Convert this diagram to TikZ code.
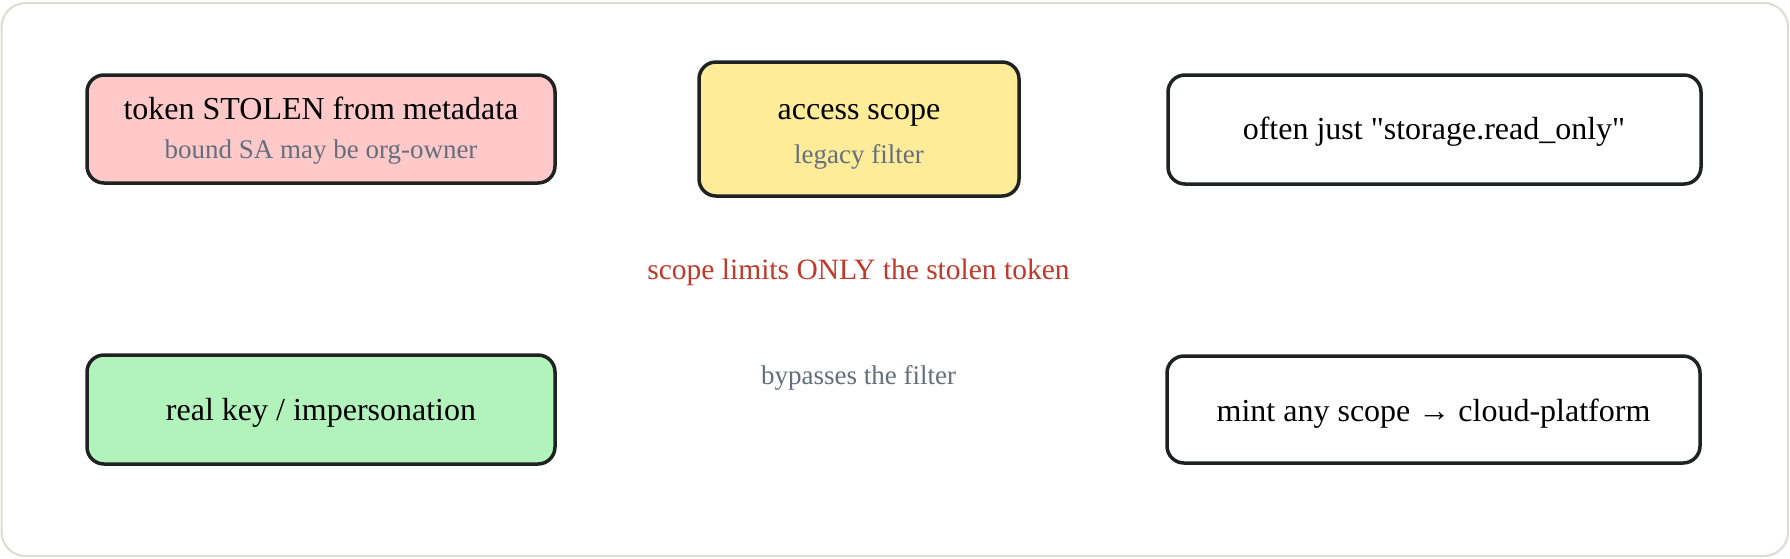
\documentclass[tikz,border=0pt]{standalone}
\usepackage{fontspec}
\setmainfont{Liberation Serif}[Ligatures=TeXOff]
\definecolor{strokeC}{HTML}{1E2222}
\definecolor{pinkF}{HTML}{FFC9C9}
\definecolor{yellowF}{HTML}{FFEC99}
\definecolor{greenF}{HTML}{B2F2BB}
\definecolor{subC}{HTML}{646E7D}
\definecolor{redC}{HTML}{C0392B}
\definecolor{frameC}{HTML}{DDDCD2}
\tikzset{
  box/.style={draw=strokeC, line width=3.5pt, rounded corners=17pt, inner sep=0pt},
  ttl/.style={anchor=base, inner sep=0pt, text=black, font=\fontsize{32}{38}\selectfont},
  sub/.style={anchor=base, inner sep=0pt, text=subC, font=\fontsize{27}{32}\selectfont},
  note/.style={anchor=base, inner sep=0pt, text=redC, font=\fontsize{29.5}{35}\selectfont},
}
\begin{document}
\begin{tikzpicture}[x=1pt,y=-1pt]
\useasboundingbox (0,0) rectangle (1790,558);
\draw[frameC, line width=2pt, fill=white, rounded corners=24pt] (1.5,3) rectangle (1788,556);
% boxes
\node[box, fill=pinkF, minimum width=468pt, minimum height=108pt] (stolen) at (321,129) {};
\node[box, fill=yellowF, minimum width=320pt, minimum height=134pt] (scope) at (859,129) {};
\node[box, fill=white, minimum width=533pt, minimum height=109pt] (often) at (1434.5,129.5) {};
\node[box, fill=greenF, minimum width=468pt, minimum height=109pt] (realkey) at (321,409.5) {};
\node[box, fill=white, minimum width=533pt, minimum height=107pt] (mint) at (1433.5,409.5) {};
% texts
\node[ttl] (stolenT) at (321,119) {token STOLEN from metadata};
\node[sub] (stolenS) at (321,158) {bound SA may be org-owner};
\node[ttl] (scopeT) at (859,119) {access scope};
\node[sub] (scopeS) at (859,163) {legacy filter};
\node[ttl] (oftenT) at (1434,139) {often just "storage.read\_only"};
\node[note] (limits) at (858.5,279) {scope limits ONLY the stolen token};
\node[sub] (bypass) at (858.5,384) {bypasses the filter};
\node[ttl] (realkeyT) at (321,420) {real key / impersonation};
\node[ttl] (mintT) at (1433.5,421) {mint any scope → cloud-platform};
\end{tikzpicture}
\end{document}
